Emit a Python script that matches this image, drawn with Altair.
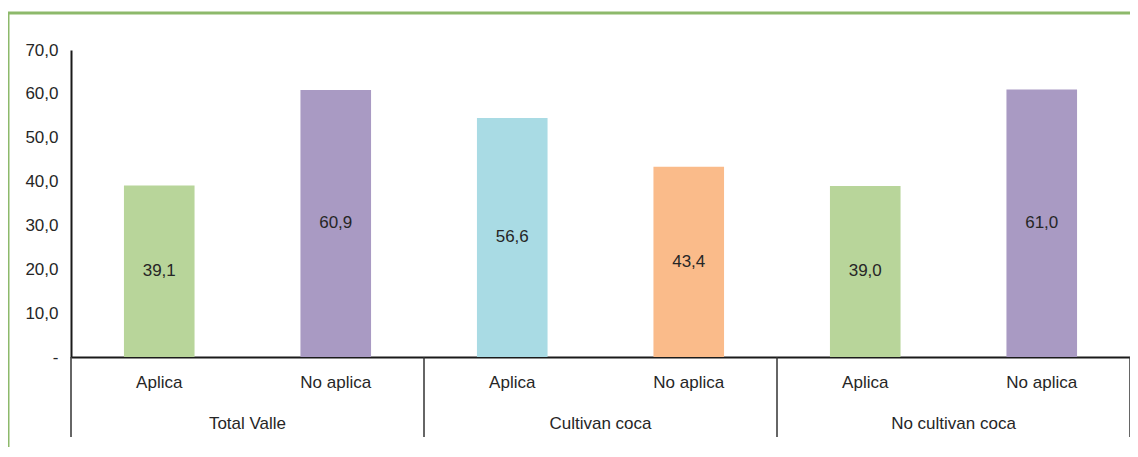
import altair as alt
import pandas as pd

groups = ["Total Valle", "Cultivan coca", "No cultivan coca"]
subcats = ["Aplica", "No aplica", "Aplica", "No aplica", "Aplica", "No aplica"]
bar_values = [39.1, 60.9, 54.5, 43.4, 39.0, 61.0]      # heights as drawn
bar_labels = ["39,1", "60,9", "56,6", "43,4", "39,0", "61,0"]  # printed labels
bar_colors = ["#B8D59A", "#A99AC3", "#A9DBE4", "#FABB8A", "#B8D59A", "#A99AC3"]
y_ticks = [0, 10, 20, 30, 40, 50, 60, 70]

FONT = "Liberation Sans"
TXT = "#262626"
W, H = 1059, 307

bars = pd.DataFrame({
    "pos": list(range(len(subcats))),
    "sub": subcats,
    "value": bar_values,
    "label": bar_labels,
    "color": bar_colors,
})
bars["x0"] = bars["pos"] + 0.3
bars["x1"] = bars["pos"] + 0.7
bars["xc"] = bars["pos"] + 0.5
bars["mid"] = bars["value"] / 2

grp = pd.DataFrame({"group": groups, "gc": [2 * i + 1 for i in range(len(groups))]})
seps = pd.DataFrame({"xs": [2 * i for i in range(len(groups) + 1)]})

xscale = alt.Scale(domain=[0, 6], nice=False, zero=False)
yscale = alt.Scale(domain=[0, 70], nice=False)

bar_layer = alt.Chart(bars).mark_rect().encode(
    x=alt.X("x0:Q", scale=xscale,
            axis=alt.Axis(labels=False, ticks=False, grid=False, title=None,
                          domainColor="#1a1a1a", domainWidth=2)),
    x2="x1:Q",
    y=alt.Y("value:Q", scale=yscale,
            axis=alt.Axis(values=y_ticks, title=None, grid=False, ticks=False,
                          labelExpr="datum.value == 0 ? '-' : replace(format(datum.value, '.1f'), '.', ',')",
                          labelFont=FONT, labelFontSize=17, labelColor=TXT,
                          labelPadding=13, domainColor="#1a1a1a", domainWidth=2)),
    y2=alt.datum(0),
    color=alt.Color("color:N", scale=None),
)

val_text = alt.Chart(bars).mark_text(font=FONT, fontSize=17, color=TXT, baseline="middle").encode(
    x=alt.X("xc:Q", scale=xscale),
    y=alt.Y("mid:Q", scale=yscale),
    text="label:N",
)

sub_text = alt.Chart(bars).mark_text(font=FONT, fontSize=17, color=TXT, baseline="middle").encode(
    x=alt.X("xc:Q", scale=xscale),
    y=alt.value(H + 26),
    text="sub:N",
)

grp_text = alt.Chart(grp).mark_text(font=FONT, fontSize=17, color=TXT, baseline="middle").encode(
    x=alt.X("gc:Q", scale=xscale),
    y=alt.value(H + 67),
    text="group:N",
)

sep_rules = alt.Chart(seps).mark_rule(color="#333333", strokeWidth=1.5).encode(
    x=alt.X("xs:Q", scale=xscale),
    y=alt.value(H),
    y2=alt.value(H + 80),
)

border = alt.Chart(pd.DataFrame({"k": [0]})).mark_rect(
    fill=None, stroke="#8DB96B", strokeWidth=3
).encode(
    x=alt.value(-63), x2=alt.value(W + 40),
    y=alt.value(-37), y2=alt.value(H + 140),
)

chart = alt.layer(border, bar_layer, val_text, sub_text, grp_text, sep_rules).properties(
    width=W, height=H,
    autosize=alt.AutoSizeParams(type="none"),
    padding={"left": 63, "top": 42, "right": 0, "bottom": 90},
).configure_view(stroke=None)

chart.save("out.html", embed_options={"renderer": "svg", "actions": False})
